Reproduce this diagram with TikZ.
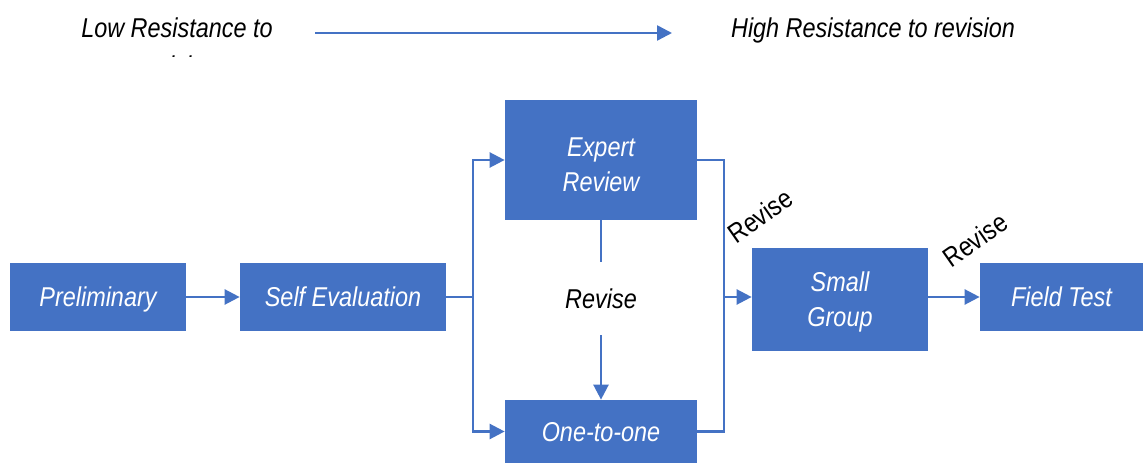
\documentclass[tikz,border=0pt]{standalone}
\usepackage{fontspec}
\setmainfont{Liberation Sans}[FakeStretch=0.86]
\usetikzlibrary{arrows.meta}
\definecolor{boxblue}{HTML}{4472C4}

\begin{document}
\begin{tikzpicture}[
    box/.style={fill=boxblue,text=white,inner sep=0pt,text depth=0pt,align=center,font=\fontsize{15.5}{20}\selectfont\itshape},
    txt/.style={inner sep=0pt,align=center,font=\fontsize{15.5}{22}\selectfont\itshape},
    rev/.style={inner sep=0pt,font=\fontsize{15.5}{17}\selectfont},
    line/.style={draw=boxblue,line width=1.4pt},
    arr/.style={line,-{Triangle[length=0.3cm,width=0.3cm]}}]
    \useasboundingbox (0,0) rectangle (22.86,-9.28);
    % top line
    \begin{scope}
      \clip (0,0) rectangle (8,-1.13);
      \node [txt,anchor=north] (low) at (3.54,-0.34) {Low Resistance to\\revision};
    \end{scope}
    \node [txt,anchor=north] (high) at (17.46,-0.34) {High Resistance to revision};
    \coordinate (ta) at (6.3,-0.66);
    \coordinate (tb) at (13.44,-0.66);
    \draw [arr] (ta) -- (tb);
    % boxes
    \node [box,minimum width=3.52cm,minimum height=1.36cm] (pre) at (1.96,-5.94) {Preliminary};
    \node [box,minimum width=4.12cm,minimum height=1.36cm] (self) at (6.86,-5.94) {Self Evaluation};
    \node [box,minimum width=3.84cm,minimum height=2.4cm,text height=36pt] (exp) at (12.02,-3.2) {Expert\\Review};
    \node [box,minimum width=3.84cm,minimum height=1.26cm] (one) at (12.02,-8.63) {One-to-one};
    \node [box,minimum width=3.52cm,minimum height=2.06cm] (small) at (16.8,-5.99) {Small\\Group};
    \node [box,minimum width=3.26cm,minimum height=1.36cm] (field) at (21.23,-5.94) {Field Test};
    \node [txt,minimum height=1.46cm] (mid) at (12.02,-5.97) {Revise};
    \node [rev,rotate=35] (r1) at (15.2,-4.32) {Revise};
    \node [rev,rotate=35] (r2) at (19.5,-4.8) {Revise};
    \coordinate (split) at (9.46,-5.94);
    \coordinate (merge) at (14.48,-5.94);
    % connectors
    \draw [arr] (pre) -- (self);
    \draw [line] (self) -- (split);
    \draw [arr] (split) |- (exp.west);
    \draw [arr] (split) |- (one.west);
    \draw [line] (exp.east) -| (merge) |- (one.east);
    \draw [arr] (merge) -- (small.west |- merge);
    \draw [arr] (small.east |- field) -- (field);
    \draw [line] (exp) -- (mid);
    \draw [arr] (mid) -- (one);
\end{tikzpicture}
\end{document}
